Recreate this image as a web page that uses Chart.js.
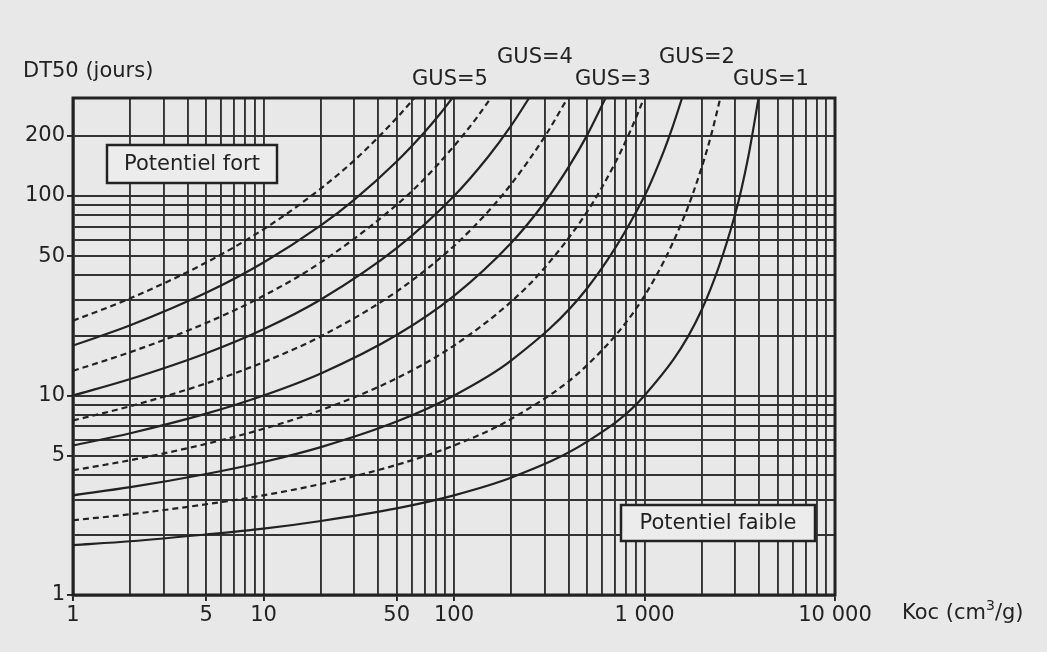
<!DOCTYPE html>
<html lang="fr">
<head>
<meta charset="UTF-8">
<title>GUS - DT50 / Koc</title>
<script src="https://cdn.jsdelivr.net/npm/chart.js"></script>
<style>
  body {margin:0; background:#e8e8e8;}
  #wrap {width:1047px; height:652px;}
</style>
</head>
<body>
<div id="wrap"><canvas id="gusChart" width="1047" height="652"></canvas></div>
<script>
// axis ticks (labelled values) and their labels
const kocTicks = [1, 5, 10, 50, 100, 1000, 10000];
const kocTickLabels = ['1', '5', '10', '50', '100', '1 000', '10 000'];
const dt50Ticks = [1, 5, 10, 50, 100, 200];
const dt50TickLabels = ['1', '5', '10', '50', '100', '200'];
const dt50Grid = [1, 2, 3, 4, 5, 6, 7, 8, 9, 10, 20, 30, 40, 50, 60, 70, 80, 90, 100, 200];

// curves: Koc (cm3/g) -> DT50 (jours)
const gusLevels = [1, 1.5, 2, 2.5, 3, 3.5, 4, 4.5, 5, 5.5];
const kocGus1   = [1, 2, 5, 10, 20, 50, 100, 200, 500, 1000, 2000, 3000, 3500, 3970];
const dt50Gus1  = [1.78, 1.86, 2.01, 2.15, 2.35, 2.72, 3.16, 3.88, 5.87, 10, 27, 82, 156, 310];
const kocGus15  = [1, 2, 5, 10, 20, 50, 100, 200, 500, 1000, 1600, 2000, 2250, 2500];
const dt50Gus15 = [2.37, 2.54, 2.85, 3.16, 3.6, 4.49, 5.62, 7.64, 14.2, 31.6, 77, 140, 206, 310];
const kocGus2   = [1, 2, 5, 10, 20, 50, 100, 200, 500, 1000, 1260, 1400, 1575];
const dt50Gus2  = [3.16, 3.47, 4.04, 4.64, 5.51, 7.4, 10, 15, 34.5, 100, 167, 220, 310];
const kocGus25  = [1, 2, 5, 10, 20, 50, 100, 200, 300, 500, 700, 850, 995];
const dt50Gus25 = [4.22, 4.74, 5.72, 6.81, 8.44, 12.2, 17.8, 29.6, 43.8, 83.5, 146, 216, 310];
const kocGus3   = [1, 2, 5, 10, 20, 50, 100, 200, 300, 400, 500, 625];
const dt50Gus3  = [5.62, 6.47, 8.11, 10, 12.9, 20.1, 31.6, 58.3, 93.3, 140, 202, 310];
const kocGus35  = [1, 2, 5, 10, 20, 50, 100, 150, 200, 300, 395];
const dt50Gus35 = [7.5, 8.84, 11.5, 14.7, 19.8, 33.2, 56.2, 83, 115, 199, 310];
const kocGus4   = [1, 2, 5, 10, 20, 50, 100, 150, 200, 248];
const dt50Gus4  = [10, 12.1, 16.3, 21.5, 30.3, 54.8, 100, 156, 226, 310];
const kocGus45  = [1, 2, 5, 10, 20, 50, 70, 100, 130, 156];
const dt50Gus45 = [13.3, 16.5, 23.1, 31.6, 46.5, 90.3, 122, 178, 243, 310];
const kocGus5   = [1, 2, 5, 10, 20, 30, 50, 70, 85, 98];
const dt50Gus5  = [17.8, 22.5, 32.7, 46.4, 71.2, 95.9, 149, 209, 260, 310];
const kocGus55  = [1, 2, 5, 10, 20, 30, 40, 50, 62];
const dt50Gus55 = [23.7, 30.7, 46.4, 68.1, 109, 151, 197, 246, 310];

const curveKoc  = [kocGus1, kocGus15, kocGus2, kocGus25, kocGus3, kocGus35, kocGus4, kocGus45, kocGus5, kocGus55];
const curveDt50 = [dt50Gus1, dt50Gus15, dt50Gus2, dt50Gus25, dt50Gus3, dt50Gus35, dt50Gus4, dt50Gus45, dt50Gus5, dt50Gus55];

const gusLabels = ['GUS=1', 'GUS=2', 'GUS=3', 'GUS=4', 'GUS=5'];

const INK = '#222222';
const GRID = '#333333';
const FONT = '"DejaVu Sans", sans-serif';

// vertical grid: 1..9 of every decade up to 10 000
const kocGrid = [];
for (let d = 1; d < 10000; d *= 10) for (let k = 1; k < 10; k++) kocGrid.push(k * d);
kocGrid.push(10000);

const datasets = gusLevels.map((g, i) => ({
    label: 'GUS=' + g,
    data: curveKoc[i].map((k, j) => ({x: k, y: curveDt50[i][j]})),
    borderColor: INK,
    borderWidth: 2.2,
    borderDash: Number.isInteger(g) ? [] : [6, 4],
    pointRadius: 0,
    cubicInterpolationMode: 'monotone',
    fill: false
}));

// labels, boxes and axis titles
const decor = {
    id: 'decor',
    afterDatasetsDraw(chart) {
        const {ctx, chartArea: a} = chart;
        ctx.save();
        ctx.strokeStyle = INK;
        ctx.lineWidth = 3;
        ctx.strokeRect(a.left, a.top, a.right - a.left, a.bottom - a.top);

        ctx.fillStyle = INK;
        ctx.font = '21px ' + FONT;
        ctx.textBaseline = 'middle';
        ctx.textAlign = 'left';
        ctx.fillText('DT50 (jours)', 23, 72);

        // GUS labels above the curve ends
        const gusPos = [[733, 80], [659, 58], [575, 80], [497, 58], [412, 80]];
        gusLabels.forEach((t, i) => ctx.fillText(t, gusPos[i][0], gusPos[i][1]));

        // Koc (cm3/g)
        let x = 902;
        const y0 = 614;
        ctx.fillText('Koc (cm', x, y0);
        x += ctx.measureText('Koc (cm').width;
        ctx.font = '14px ' + FONT;
        ctx.fillText('3', x, y0 - 8);
        x += ctx.measureText('3').width;
        ctx.font = '21px ' + FONT;
        ctx.fillText('/g)', x, y0);

        // boxes
        const boxes = [
            {text: 'Potentiel fort', x: 107, y: 145, w: 170, h: 38},
            {text: 'Potentiel faible', x: 621, y: 505, w: 194, h: 36}
        ];
        boxes.forEach(b => {
            ctx.fillStyle = '#ececec';
            ctx.fillRect(b.x, b.y, b.w, b.h);
            ctx.lineWidth = 2.5;
            ctx.strokeRect(b.x, b.y, b.w, b.h);
            ctx.fillStyle = INK;
            ctx.textAlign = 'center';
            ctx.fillText(b.text, b.x + b.w / 2, b.y + b.h / 2 + 1);
        });
        ctx.restore();
    }
};

new Chart(document.getElementById('gusChart'), {
    type: 'line',
    data: {datasets},
    plugins: [decor],
    options: {
        responsive: false,
        animation: false,
        devicePixelRatio: 1,
        layout: {padding: {top: 98, right: 212, left: 0, bottom: 0}},
        plugins: {legend: {display: false}, tooltip: {enabled: false}},
        scales: {
            x: {
                type: 'logarithmic',
                min: 1, max: 10000,
                afterFit: s => { s.height = 57; },
                afterBuildTicks: s => { s.ticks = kocGrid.map(v => ({value: v})); },
                border: {display: true, color: INK, width: 2.5},
                grid: {
                    color: GRID, lineWidth: 1.9, tickLength: 6,
                    tickColor: c => kocTicks.includes(c.tick && c.tick.value) ? INK : 'rgba(0,0,0,0)'
                },
                ticks: {
                    autoSkip: false, maxRotation: 0, padding: 2,
                    color: INK, font: {family: FONT, size: 21},
                    callback: v => { const i = kocTicks.indexOf(v); return i < 0 ? '' : kocTickLabels[i]; }
                }
            },
            y: {
                type: 'logarithmic',
                min: 1, max: 310,
                afterFit: s => { s.width = 73; },
                afterBuildTicks: s => { s.ticks = dt50Grid.map(v => ({value: v})); },
                border: {display: true, color: INK, width: 2.5},
                grid: {
                    color: GRID, lineWidth: 1.9, tickLength: 6,
                    tickColor: c => dt50Ticks.includes(c.tick && c.tick.value) ? INK : 'rgba(0,0,0,0)'
                },
                ticks: {
                    autoSkip: false, padding: 2,
                    color: INK, font: {family: FONT, size: 21},
                    callback: v => { const i = dt50Ticks.indexOf(v); return i < 0 ? '' : dt50TickLabels[i]; }
                }
            }
        }
    }
});
</script>
</body>
</html>
